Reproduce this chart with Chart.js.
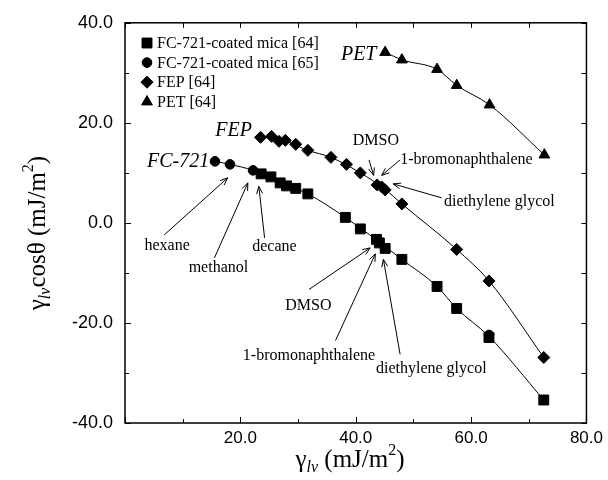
<!DOCTYPE html>
<html>
<head>
<meta charset="utf-8">
<script src="https://cdn.jsdelivr.net/npm/chart.js@4.4.1/dist/chart.umd.min.js"></script>
<style>
  html, body { margin: 0; padding: 0; background: #fff; }
  #wrap { width: 608px; height: 480px; }
</style>
</head>
<body>
<div id="wrap"><canvas id="grafico" width="608" height="480"></canvas></div>
<script>
// ═══════════════════════════════════════════
// DATOS
// ═══════════════════════════════════════════
const fc64X = [23.6, 25.3, 26.9, 28.0, 29.6, 31.7, 38.2, 40.8, 43.6, 44.1, 45.1, 48.0, 54.1, 57.5, 63.1, 72.6];
const fc64Y = [9.8, 9.2, 8.0, 7.4, 6.9, 5.8, 1.1, -1.2, -3.3, -4.0, -5.1, -7.3, -12.7, -17.1, -22.9, -35.4];

const fc65X = [15.6, 18.2, 22.2, 63.1];
const fc65Y = [12.3, 11.7, 10.5, -22.4];

const fepX = [23.5, 25.4, 26.7, 27.8, 29.6, 31.7, 35.7, 38.4, 40.8, 43.7, 44.5, 45.1, 48.0, 57.5, 63.1, 72.6];
const fepY = [17.1, 17.3, 16.3, 16.5, 15.7, 14.5, 13.1, 11.7, 10.0, 7.6, 7.2, 6.6, 3.8, -5.3, -11.6, -26.9];

const petX = [45.1, 48.0, 54.1, 57.5, 63.2, 72.7];
const petY = [34.1, 32.6, 30.7, 27.5, 23.6, 13.6];

// curvas de ajuste (trazadas sobre la figura)
const fcFitX = [15.6, 18.2, 22.2, 26.9, 31.7, 38.2, 43.6, 48.0, 54.1, 57.5, 63.1, 72.6];
const fcFitY = [12.3, 11.7, 10.5, 8.1, 5.8, 1.1, -3.4, -7.3, -12.7, -17.1, -22.7, -35.4];
const fepFitX = [23.5, 27.8, 31.7, 35.7, 40.8, 45.1, 48.0, 57.5, 63.1, 72.6];
const fepFitY = [17.2, 16.4, 14.5, 13.1, 10.0, 6.7, 3.8, -5.3, -11.6, -26.9];

const legendLabels = ['FC-721-coated mica [64]', 'FC-721-coated mica [65]', 'FEP [64]', 'PET [64]'];

// etiquetas de superficie (cursiva), anclaje derecho en coordenadas de datos
const surfNames = ['PET', 'FEP', 'FC-721'];
const surfX = [43.6, 22.0, 14.6];
const surfY = [33.6, 18.4, 12.3];

// líquidos
const liqNames = ['hexane', 'methanol', 'decane', 'DMSO', '1-bromonaphthalene', 'diethylene glycol', 'DMSO', '1-bromonaphthalene', 'diethylene glycol'];
const liqX = [7.3, 16.2, 25.9, 43.5, 59.2, 64.9, 31.8, 31.9, 53.1];
const liqY = [-4.5, -9.0, -4.8, 16.5, 12.6, 4.3, -16.6, -26.5, -29.1];
const arrowFromX = [6.8, 15.5, 24.2, 42.3, 47.7, 54.9, 31.9, 36.5, 47.7];
const arrowFromY = [-2.4, -7.0, -3.0, 12.6, 12.6, 5.0, -13.3, -23.5, -26.3];
const arrowToX = [17.8, 21.3, 23.2, 43.1, 44.5, 46.5, 42.5, 43.4, 44.8];
const arrowToY = [9.0, 8.0, 7.3, 9.5, 9.5, 7.8, -5.0, -6.2, -7.3];

const xTicks = [0, 10, 20, 30, 40, 50, 60, 70, 80];
const yTicks = [-40, -30, -20, -10, 0, 10, 20, 30, 40];

// ═══════════════════════════════════════════
// UTILIDADES
// ═══════════════════════════════════════════
const pts = (xs, ys) => xs.map((x, i) => ({ x, y: ys[i] }));
const SERIF = "'Liberation Serif', 'Times New Roman', serif";
const SANS = "'Liberation Sans', Arial, sans-serif";

function flecha(ctx, x1, y1, x2, y2) {
  ctx.beginPath(); ctx.moveTo(x1, y1); ctx.lineTo(x2, y2); ctx.stroke();
  const ang = Math.atan2(y2 - y1, x2 - x1), L = 8, w = 0.38;
  ctx.beginPath();
  ctx.moveTo(x2 - L * Math.cos(ang - w), y2 - L * Math.sin(ang - w));
  ctx.lineTo(x2, y2);
  ctx.lineTo(x2 - L * Math.cos(ang + w), y2 - L * Math.sin(ang + w));
  ctx.stroke();
}

// texto con sub/superíndices: partes [{t, font, dy}]
function textoRico(ctx, parts, x, y) {
  let w = 0;
  parts.forEach(p => { ctx.font = p.font; w += ctx.measureText(p.t).width; });
  let cx = x - w / 2;
  ctx.textAlign = 'left';
  ctx.textBaseline = 'alphabetic';
  parts.forEach(p => {
    ctx.font = p.font;
    ctx.fillText(p.t, cx, y + (p.dy || 0));
    cx += ctx.measureText(p.t).width;
  });
}

function marcador(ctx, style, r, x, y) {
  Chart.helpers.drawPoint(ctx, { pointStyle: style, radius: r, rotation: 0, borderWidth: 1 }, x, y);
  ctx.fill();
}

// ═══════════════════════════════════════════
// PLUGIN: marco, ticks, leyenda, anotaciones
// ═══════════════════════════════════════════
const overlay = {
  id: 'overlay',
  afterDraw(chart) {
    const { ctx, chartArea: a, scales: { x, y } } = chart;
    ctx.save();
    ctx.strokeStyle = '#000';
    ctx.fillStyle = '#000';

    // marco
    ctx.lineWidth = 1.5;
    ctx.strokeRect(a.left, a.top, a.right - a.left, a.bottom - a.top);

    // ticks hacia adentro
    ctx.lineWidth = 1;
    ctx.beginPath();
    xTicks.forEach(v => {
      const px = Math.round(x.getPixelForValue(v)) + 0.5;
      const len = v % 20 === 0 ? 6 : 4;
      ctx.moveTo(px, a.bottom); ctx.lineTo(px, a.bottom - len);
      ctx.moveTo(px, a.top); ctx.lineTo(px, a.top + 5);
    });
    yTicks.forEach(v => {
      const py = Math.round(y.getPixelForValue(v)) + 0.5;
      const len = v % 20 === 0 ? 6 : 4;
      ctx.moveTo(a.left, py); ctx.lineTo(a.left + len, py);
      ctx.moveTo(a.right, py); ctx.lineTo(a.right - 5, py);
    });
    ctx.stroke();

    // leyenda
    const estilos = [['rect', 7], ['circle', 4.8], ['rectRot', 6], ['triangle', 6.2]];
    ctx.font = '16px ' + SERIF;
    ctx.textAlign = 'left';
    ctx.textBaseline = 'middle';
    legendLabels.forEach((t, i) => {
      const ly = 43 + i * 19.6;
      marcador(ctx, estilos[i][0], estilos[i][1], 147, ly);
      ctx.fillText(t, 157, ly + 1);
    });

    // nombres de superficie
    ctx.font = 'italic 20px ' + SERIF;
    ctx.textAlign = 'right';
    surfNames.forEach((t, i) => ctx.fillText(t, x.getPixelForValue(surfX[i]), y.getPixelForValue(surfY[i])));

    // líquidos + flechas
    ctx.font = '16px ' + SERIF;
    ctx.textAlign = 'center';
    liqNames.forEach((t, i) => ctx.fillText(t, x.getPixelForValue(liqX[i]), y.getPixelForValue(liqY[i])));
    ctx.lineWidth = 1;
    arrowFromX.forEach((_, i) => flecha(ctx,
      x.getPixelForValue(arrowFromX[i]), y.getPixelForValue(arrowFromY[i]),
      x.getPixelForValue(arrowToX[i]), y.getPixelForValue(arrowToY[i])));

    // título eje X
    const big = '25px ' + SERIF, sub = 'italic 16px ' + SERIF, sup = '16px ' + SERIF;
    textoRico(ctx, [
      { t: 'γ', font: big }, { t: 'lv', font: sub, dy: 5 },
      { t: ' (mJ/m', font: big }, { t: '2', font: sup, dy: -12 }, { t: ')', font: big }
    ], 350, 467);

    // título eje Y
    ctx.translate(45, 233);
    ctx.rotate(-Math.PI / 2);
    textoRico(ctx, [
      { t: 'γ', font: big }, { t: 'lv', font: sub, dy: 5 },
      { t: 'cosθ (mJ/m', font: big }, { t: '2', font: sup, dy: -12 }, { t: ')', font: big }
    ], 0, 0);

    ctx.restore();
  }
};

// ═══════════════════════════════════════════
// GRÁFICO
// ═══════════════════════════════════════════
const linea = (xs, ys) => ({
  data: pts(xs, ys), showLine: true, pointRadius: 0, borderColor: '#000',
  borderWidth: 1, cubicInterpolationMode: 'monotone', fill: false
});
const puntos = (xs, ys, style, r) => ({
  data: pts(xs, ys), showLine: false, pointStyle: style, pointRadius: r,
  backgroundColor: '#000', borderColor: '#000', borderWidth: 1
});

new Chart(document.getElementById('grafico'), {
  type: 'scatter',
  data: {
    datasets: [
      linea(fcFitX, fcFitY),
      linea(fepFitX, fepFitY),
      linea(petX, petY),
      puntos(fc64X, fc64Y, 'rect', 7),
      puntos(fc65X, fc65Y, 'circle', 4.8),
      puntos(fepX, fepY, 'rectRot', 6),
      puntos(petX, petY, 'triangle', 6.2)
    ]
  },
  options: {
    responsive: false,
    animation: false,
    layout: { padding: { top: 21, right: 19.5, left: 0, bottom: 0 } },
    plugins: { legend: { display: false }, tooltip: { enabled: false } },
    scales: {
      x: {
        type: 'linear', min: 0, max: 80,
        grid: { display: false, drawTicks: false },
        border: { display: false },
        afterFit: s => { s.height = 57; },
        afterBuildTicks: s => { s.ticks = xTicks.map(v => ({ value: v })); },
        ticks: {
          autoSkip: false, maxRotation: 0, padding: 5, color: '#000',
          font: { family: SANS, size: 17 },
          callback: v => (v > 0 && v % 20 === 0) ? v.toFixed(1) : ''
        }
      },
      y: {
        type: 'linear', min: -40, max: 40,
        grid: { display: false, drawTicks: false },
        border: { display: false },
        afterFit: s => { s.width = 125; },
        afterBuildTicks: s => { s.ticks = yTicks.map(v => ({ value: v })); },
        ticks: {
          autoSkip: false, padding: 12, color: '#000',
          font: { family: SANS, size: 18 },
          callback: v => v % 20 === 0 ? v.toFixed(1) : ''
        }
      }
    }
  },
  plugins: [overlay]
});
</script>
</body>
</html>
